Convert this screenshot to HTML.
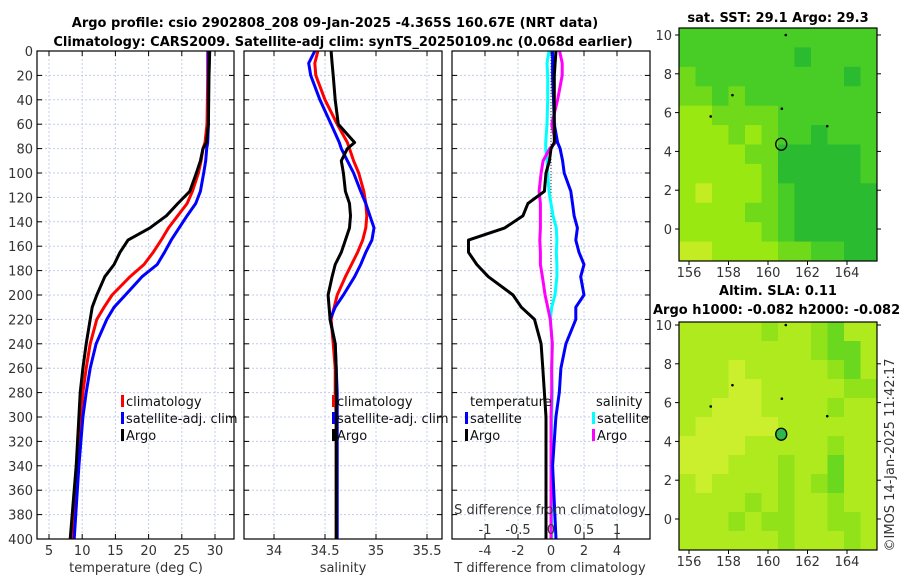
<!DOCTYPE html>
<html><head><meta charset="utf-8">
<style>
html,body{margin:0;padding:0;background:#fff;}
svg{display:block;font-family:"DejaVu Sans","Liberation Sans",sans-serif;}
.tk{font-size:13px;fill:#333;}
.ttl{font-size:13px;font-weight:bold;fill:#000;}
.lg{font-size:13px;fill:#111;}
</style></head>
<body>
<svg id="chart" width="900" height="580" viewBox="0 0 900 580"></svg>
<script>
const depths=[0,10,20,40,60,75,80,90,100,115,125,135,145,155,165,175,185,200,210,220,240,260,280,300,340,400];
const tClim=[28.9,28.9,28.9,28.85,28.8,28.5,28.2,27.9,27.5,26.6,25.8,24.4,23.0,21.9,20.7,19.3,17.2,14.5,13.3,12.2,11.2,10.6,10.1,9.8,9.4,8.5];
const tSat=[29.0,29.0,29.0,29.0,29.0,28.9,28.75,28.6,28.3,27.8,27.1,25.8,24.6,23.4,22.4,21.3,19.0,16.5,14.8,13.7,12.1,11.2,10.6,10.1,9.5,8.8];
const tArgo=[29.2,29.15,29.1,29.05,29.0,28.7,28.2,27.8,27.2,26.2,24.4,22.7,20.2,16.9,15.7,14.8,13.4,12.2,11.5,11.2,10.6,10.1,9.7,9.5,9.1,8.2];
const sClim=[34.43,34.40,34.41,34.50,34.62,34.72,34.74,34.78,34.83,34.88,34.90,34.91,34.90,34.87,34.82,34.76,34.70,34.62,34.59,34.56,34.58,34.60,34.60,34.61,34.61,34.61];
const sSat=[34.40,34.34,34.36,34.45,34.56,34.64,34.66,34.72,34.78,34.85,34.90,34.94,34.98,34.96,34.90,34.85,34.79,34.68,34.60,34.55,34.60,34.61,34.62,34.62,34.62,34.62];
const sArgo=[34.56,34.57,34.58,34.60,34.63,34.79,34.72,34.66,34.68,34.70,34.74,34.75,34.74,34.70,34.66,34.60,34.57,34.53,34.54,34.55,34.60,34.61,34.61,34.61,34.61,34.61];
const depthTicks=[0,20,40,60,80,100,120,140,160,180,200,220,240,260,280,300,320,340,360,380,400];
const tTicks=[5,10,15,20,25,30];
const sTicks=[34,34.5,35,35.5];
const sTickLabels=["34","34.5","35","35.5"];
const dTTicks=[-4,-2,0,2,4];
const dSTicks=[-1,-0.5,0,0.5,1];
const dSTickLabels=["-1","-0.5","0","0.5","1"];
const lonTicks=[156,158,160,162,164];
const latTicks=[0,2,4,6,8,10];
const sstGrid=[
[1,1,1,1,1,1,1,1,1,1,1,1],[1,1,1,1,1,1,1,0,1,1,1,1],[2,1,1,1,1,1,1,1,1,1,0,1],
[2,2,1,2,1,1,1,1,1,1,1,1],[3,3,2,2,2,2,1,1,1,1,1,1],[3,3,3,2,3,2,1,1,0,1,1,1],
[3,3,3,3,2,2,0,0,0,0,0,1],[3,3,3,3,3,2,0,0,0,0,0,1],[3,4,3,3,3,2,1,0,0,0,0,0],
[3,3,3,3,2,2,1,0,0,0,0,0],[3,3,3,3,3,2,1,0,0,0,0,0],[4,4,3,3,3,3,2,2,1,1,0,0]];
const slaGrid=[
[3,3,3,3,3,2,3,3,2,1,3,3],[3,3,3,3,3,3,3,3,2,1,1,3],[3,3,3,4,3,3,3,3,3,2,1,3],
[3,3,3,4,4,3,3,3,3,3,2,2],[3,3,4,4,4,3,3,3,3,2,3,3],[3,4,4,4,4,4,3,3,3,3,3,3],
[4,4,4,4,3,3,3,3,3,2,3,3],[4,4,4,3,3,3,2,3,3,1,3,3],[3,4,3,3,3,3,2,3,2,1,3,3],
[3,3,3,3,2,3,2,3,3,2,3,3],[3,3,3,2,3,2,2,3,3,2,2,3],[3,3,3,3,3,3,2,3,3,3,2,3]];
const sstColors=["#2abb30","#48cc26","#70da1a","#9ae812","#c4ec22"];
const slaColors=["#3cc828","#6ad81e","#92e21a","#aeea1e","#cbef2c"];

const svg=document.getElementById('chart');
const NS='http://www.w3.org/2000/svg';
function mk(tag,attrs,parent){const e=document.createElementNS(NS,tag);for(const k in attrs)e.setAttribute(k,attrs[k]);(parent||svg).appendChild(e);return e;}
function txt(x,y,s,cls,anchor,parent){const t=mk('text',{x:x,y:y,class:cls,'text-anchor':anchor||'middle'},parent);t.textContent=s;return t;}

const TOP=51,BOT=539;
const yD=d=>TOP+(d/400)*(BOT-TOP);
const xT=v=>49+(v-5)*6.64;
const xS=v=>274+(v-34)*102;
const xDT=v=>551+v*16.5;
const xDS=v=>551+v*66;

function panel(name,x0,x1,ticks,xf,labels,yLabels){
  const g=mk('g',{});
  
  
  depthTicks.forEach(d=>{mk('line',{x1:x0,x2:x1,y1:yD(d),y2:yD(d),stroke:'#c4cceb','stroke-width':1,'stroke-dasharray':'2,2'},g);
    mk('line',{x1:x0,x2:x0+5,y1:yD(d),y2:yD(d),stroke:'#000'},g);mk('line',{x1:x1-5,x2:x1,y1:yD(d),y2:yD(d),stroke:'#000'},g);
    if(yLabels){const t=txt(x0-4,yD(d)+5,String(d),'tk','end',g);}});
  ticks.forEach((v,i)=>{const x=xf(v);mk('line',{x1:x,x2:x,y1:TOP,y2:BOT,stroke:'#c4cceb','stroke-dasharray':'2,2'},g);
    mk('line',{x1:x,x2:x,y1:BOT-5,y2:BOT,stroke:'#000'},g);mk('line',{x1:x,x2:x,y1:TOP,y2:TOP+5,stroke:'#000'},g);
    const t=txt(x,BOT+16,labels[i],'tk','middle',g);});
  return g;
}
function frame(x0,x1,g){mk('rect',{x:x0,y:TOP,width:x1-x0,height:BOT-TOP,fill:'none',stroke:'#000','stroke-width':1.2},g);}
function line(vals,xf,color,name,g,w){
  const pts=vals.map((v,i)=>xf(v).toFixed(1)+','+yD(depths[i]).toFixed(1)).join(' ');
  const p=mk('polyline',{points:pts,fill:'none',stroke:color,'stroke-width':w||3,'stroke-linejoin':'round'},g);
  
  
}
function legendItem(x,y,color,label,g){
  mk('rect',{x:x,y:y-11,width:3,height:12,fill:color},g);
  const t=txt(x+5,y,label,'lg','start',g);
  
  
}

let t=txt(335,27,'Argo profile: csio 2902808_208 09-Jan-2025 -4.365S 160.67E (NRT data)','ttl');

t=txt(343,46,'Climatology: CARS2009. Satellite-adj clim: synTS_20250109.nc (0.068d earlier)','ttl');


const g1=panel('temperature-panel',37,234,tTicks,xT,tTicks.map(String),true);
line(tClim,xT,'#ff0000','temp-climatology-line',g1);
line(tSat,xT,'#0000ff','temp-satellite-line',g1);
line(tArgo,xT,'#000000','temp-argo-line',g1);
frame(37,234,g1);
legendItem(121,406,'#ff0000','climatology',g1);
legendItem(121,423,'#0000ff','satellite-adj. clim',g1);
legendItem(121,440,'#000000','Argo',g1);
t=txt(136,572,'temperature (deg C)','tk');

const g2=panel('salinity-panel',244,442,sTicks,xS,sTickLabels,false);
line(sClim,xS,'#ff0000','sal-climatology-line',g2);
line(sSat,xS,'#0000ff','sal-satellite-line',g2);
line(sArgo,xS,'#000000','sal-argo-line',g2);
frame(244,442,g2);
legendItem(332,406,'#ff0000','climatology',g2);
legendItem(332,423,'#0000ff','satellite-adj. clim',g2);
legendItem(332,440,'#000000','Argo',g2);
t=txt(343,572,'salinity','tk');

const g3=panel('difference-panel',452,650,dTTicks,xDT,dTTicks.map(String),false);
mk('line',{x1:xDT(0),x2:xDT(0),y1:TOP,y2:BOT,stroke:'#333','stroke-width':1,'stroke-dasharray':'1,2'},g3);
const dTSat=tSat.map((v,i)=>v-tClim[i]);
const dTArgo=tArgo.map((v,i)=>v-tClim[i]);
const dSSat=sSat.map((v,i)=>v-sClim[i]);
const dSArgo=sArgo.map((v,i)=>v-sClim[i]);
line(dSSat,xDS,'#00ffff','sal-diff-satellite-line',g3);
line(dSArgo,xDS,'#ff00ff','sal-diff-argo-line',g3);
line(dTSat,xDT,'#0000ff','temp-diff-satellite-line',g3);
line(dTArgo,xDT,'#000000','temp-diff-argo-line',g3);
frame(452,650,g3);
t=txt(470,406,'temperature','lg','start',g3);
t=txt(596,406,'salinity','lg','start',g3);
legendItem(465,423,'#0000ff','satellite',g3);
legendItem(465,440,'#000000','Argo',g3);
legendItem(592,423,'#00ffff','satellite',g3);
legendItem(592,440,'#ff00ff','Argo',g3);
t=txt(550,514,'S difference from climatology','tk');
dSTicks.forEach((v,i)=>{const tt=txt(xDS(v),534,dSTickLabels[i],'tk');});
t=txt(550,572,'T difference from climatology','tk');

function map(name,top,bot,grid,colors,filled){
  const L=679,R=877;
  const lonX=v=>689+(v-156)*19.75;
  const lat0=top===28?229:519;
  const latY=v=>lat0-v*19.4;
  const g=mk('g',{});
  
  
  const rows=grid.length,cols=grid[0].length;
  const cw=(R-L)/cols,ch=(bot-top)/rows;
  grid.forEach((row,r)=>row.forEach((v,c)=>{
    const cell=mk('rect',{x:L+c*cw,y:top+r*ch,width:cw+0.5,height:ch+0.5,fill:colors[v]},g);
    
    
  }));
  mk('rect',{x:L,y:top,width:R-L,height:bot-top,fill:'none',stroke:'#000','stroke-width':1.2},g);
  lonTicks.forEach(v=>{const x=lonX(v);mk('line',{x1:x,x2:x,y1:bot,y2:bot+4,stroke:'#000'},g);
    const tt=txt(x,bot+16,String(v),'tk','middle',g);});
  latTicks.forEach(v=>{const y=latY(v);mk('line',{x1:L-4,x2:L,y1:y,y2:y,stroke:'#000'},g);mk('line',{x1:R,x2:R+4,y1:y,y2:y,stroke:'#000'},g);
    const tt=txt(L-7,y+5,String(v),'tk','end',g);});
  [[158.2,6.9],[163.0,5.3],[160.7,6.2],[157.1,5.8],[160.9,10.0]].forEach(p=>mk('circle',{cx:lonX(p[0]),cy:latY(p[1]),r:1.3,fill:'#000'},g));
  const m=mk('ellipse',{cx:lonX(160.67),cy:latY(4.37),rx:5.5,ry:6,fill:filled?'#2cb84a':'none',stroke:'#000','stroke-width':1.3},g);
  
  
}
map('sst-map',28,261,sstGrid,sstColors,false);
map('sla-map',322,550,slaGrid,slaColors,true);
t=txt(778,22,'sat. SST: 29.1 Argo: 29.3','ttl');
t=txt(778,295,'Altim. SLA: 0.11','ttl');
t=txt(653,314,'Argo h1000: -0.082 h2000: -0.082','ttl','start');
t=txt(0,0,'©IMOS 14-Jan-2025 11:42:17','tk','middle');
t.setAttribute('transform','translate(894,455) rotate(-90)');

</script>
</body></html>
